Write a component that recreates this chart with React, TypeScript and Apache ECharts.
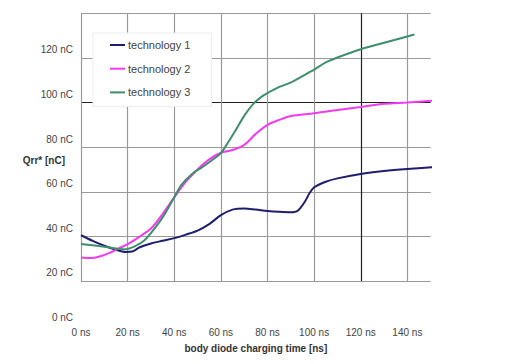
import React, { useEffect, useRef } from "react";
import * as echarts from "echarts";

const seriesNames = ["technology 1", "technology 2", "technology 3"];
const seriesColors = ["#1e1e6c", "#f23af0", "#3f8e6c"];

// [charging time ns, Qrr nC]
const tech1 = [
  [0, 40.5], [5, 38], [10, 35.8], [15, 34], [19, 33], [22, 33.2], [25, 35], [30, 36.8],
  [35, 38], [40, 39.2], [45, 40.8], [50, 42.6], [55, 45.5], [60, 49.5], [65, 52],
  [70, 52.5], [75, 52], [80, 51.4], [85, 51], [90, 50.8], [93, 51.5], [96, 55.5],
  [98, 59.3], [100, 62], [105, 64.5], [110, 66], [120, 68], [130, 69.3], [140, 70.2], [154, 71.2],
];
const tech2 = [
  [0, 30.5], [4, 30.3], [8, 31], [12, 32.5], [16, 34.5], [20, 36.5], [25, 39.8], [30, 43.5],
  [35, 50], [40, 57.5], [45, 64.5], [50, 70], [55, 74.5], [60, 77.5], [65, 78.7], [70, 81],
  [75, 86], [80, 90], [85, 92.2], [90, 94], [100, 95.2], [110, 96.7], [120, 98], [130, 99.4],
  [140, 100], [150, 100.8], [157, 101.5],
];
const tech3 = [
  [0, 36.6], [5, 36], [10, 35.3], [15, 34.6], [19, 34.2], [23, 35.5], [27, 38], [30, 41.5],
  [35, 48.5], [40, 57.5], [43, 63], [48, 68.3], [52, 71], [56, 74], [60, 77.3], [63, 82],
  [66, 87], [70, 94], [74, 99.5], [78, 103], [84, 106.5], [91, 109.5], [100, 114.8],
  [105, 118], [110, 120.2], [120, 123.9], [130, 126.8], [143, 130.5],
];
const seriesData = [tech1, tech2, tech3];

const xTicks = [0, 20, 40, 60, 80, 100, 120, 140];
const xMax = 150;
const yMin = 0;
const yMax = 140;
const yStep = 20;
const gridFloor = 20;
const darkX = 120;
const darkY = 100;

const FONT = "'Liberation Sans', Arial, sans-serif";
const GRID_GRAY = "#9a9a9a";
const GRID_DARK = "#222222";
const TEXT = "#444444";

export default function App() {
  const ref = useRef<HTMLDivElement>(null);
  useEffect(() => {
    const chart = echarts.init(ref.current!, null, { renderer: "svg" });
    const yLineColors: string[] = [];
    for (let v = yMin; v <= yMax; v += yStep) {
      if (v < gridFloor) yLineColors.push("rgba(0,0,0,0)");
      else if (v === darkY) yLineColors.push(GRID_DARK);
      else yLineColors.push(GRID_GRAY);
    }
    const vLines = xTicks.map((x) => [
      { coord: [x, gridFloor], lineStyle: { color: x === darkX ? GRID_DARK : GRID_GRAY, width: 1.2, type: "solid" } },
      { coord: [x, yMax] },
    ]);
    chart.setOption({
      animation: false,
      backgroundColor: "#ffffff",
      textStyle: { fontFamily: FONT },
      grid: { left: 81, right: 97.3, top: 13.3, bottom: 38.4, containLabel: false },
      legend: {
        data: seriesNames,
        orient: "vertical",
        left: 93,
        top: 33,
        icon: "rect",
        itemWidth: 15,
        itemHeight: 2,
        itemGap: 9.7,
        padding: [5, 21, 7, 17],
        backgroundColor: "#ffffff",
        borderColor: "#ececec",
        borderWidth: 1,
        textStyle: { fontFamily: FONT, fontSize: 11, lineHeight: 14, color: TEXT, padding: [0, 0, 0, -2] },
      },
      xAxis: {
        type: "value",
        min: 0,
        max: xMax,
        interval: 20,
        name: "body diode charging time [ns]",
        nameLocation: "middle",
        nameGap: 18,
        nameTextStyle: { fontFamily: FONT, fontSize: 10, fontWeight: "bold", color: "#333" },
        axisLine: { show: false },
        axisTick: { show: false },
        splitLine: { show: false },
        axisLabel: {
          margin: 2,
          fontSize: 10,
          color: TEXT,
          fontFamily: FONT,
          showMaxLabel: false,
          formatter: (v: number) => `${v} ns`,
        },
      },
      yAxis: {
        type: "value",
        min: yMin,
        max: yMax,
        interval: yStep,
        name: "Qrr* [nC]",
        nameLocation: "middle",
        nameRotate: 0,
        nameGap: 16,
        nameMoveOverlap: false,
        nameTextStyle: {
          fontFamily: FONT,
          fontSize: 10,
          fontWeight: "bold",
          color: "#333",
          verticalAlign: "bottom",
          padding: [0, 0, 4, 0],
        },
        axisLine: { show: false },
        axisTick: { show: false },
        splitLine: { show: true, lineStyle: { color: yLineColors, width: 1.2 } },
        axisLabel: {
          margin: 8,
          fontSize: 10,
          color: TEXT,
          fontFamily: FONT,
          showMaxLabel: false,
          verticalAlign: "bottom",
          padding: [0, 0, 3, 0],
          formatter: (v: number) => `${v} nC`,
        },
      },
      series: [
        {
          type: "line",
          name: "gridlines",
          data: [],
          silent: true,
          z: 1,
          markLine: {
            silent: true,
            symbol: "none",
            label: { show: false },
            z: 1,
            data: vLines,
          },
        },
        ...seriesNames.map((name, i) => ({
          type: "line",
          name,
          data: seriesData[i],
          smooth: 0.3,
          symbol: "none",
          clip: false,
          z: 3,
          lineStyle: { color: seriesColors[i], width: 2 },
          itemStyle: { color: seriesColors[i] },
        })),
      ],
    });
    return () => chart.dispose();
  }, []);
  return (
    <div
      ref={ref}
      style={{ position: "fixed", left: 0, top: 0, width: 528, height: 364, background: "#fff" }}
    />
  );
}
